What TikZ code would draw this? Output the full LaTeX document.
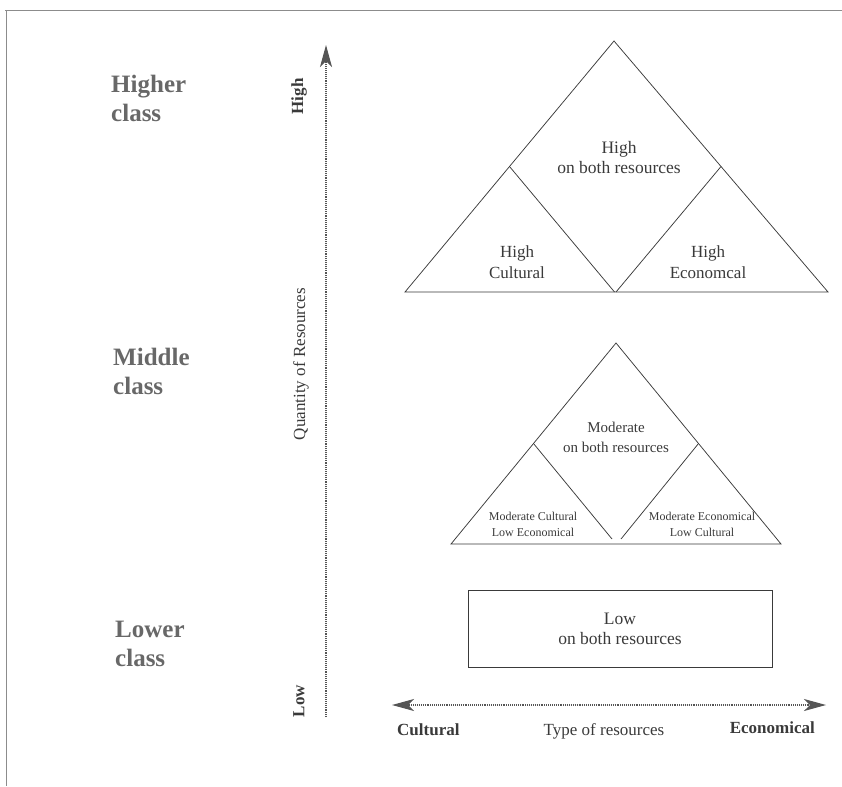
\documentclass[tikz,border=0pt]{standalone}
\usepackage{fontspec}
\setmainfont{Liberation Serif}
\usetikzlibrary{arrows.meta}
\definecolor{ink}{HTML}{3A3A3A}
\definecolor{clsgray}{HTML}{686868}
\definecolor{framegray}{HTML}{8C8C8C}
\definecolor{axisgray}{HTML}{555555}
\begin{document}
\begin{tikzpicture}[x=1pt,y=-1pt,
  clslabel/.style={text=clsgray, font=\fontsize{25}{29}\selectfont\bfseries, align=left, inner sep=0pt, anchor=north west},
  lbl/.style={text=ink, align=center, inner sep=0pt},
  edgeline/.style={draw=ink, line width=0.75pt, line join=miter},
  axisline/.style={draw=axisgray, line width=1.1pt, dash pattern=on 0.9pt off 1.0pt},
  axistip/.tip={Stealth[length=22pt,width=12pt,inset=6pt,fill=axisgray,color=axisgray]},
  framel/.style={draw=framegray, line width=0.9pt}
]
\useasboundingbox (0,0) rectangle (842,786);

% frame
\draw[framel] (5,10.5) -- (842,10.5);
\draw[framel] (6,10.5) -- (6,786);

% class labels
\node[clslabel] (hc) at (111,75) {Higher\\class};
\node[clslabel] (mc) at (113,348) {Middle\\class};
\node[clslabel] (lc) at (115,620.5) {Lower\\class};

% vertical axis
\coordinate (vb) at (326,717);
\coordinate (vt) at (326,45);
\draw[axisline, -axistip] (vb) -- (vt);
\node[lbl, rotate=90, font=\fontsize{17}{20}\selectfont\bfseries] (high) at (299,96.5) {High};
\node[lbl, rotate=90, font=\fontsize{17}{20}\selectfont\bfseries] (low) at (299,701) {Low};
\node[lbl, rotate=90, font=\fontsize{17}{20}\selectfont] (qty) at (301,364) {Quantity of Resources};

% horizontal axis
\coordinate (hl) at (392,705);
\coordinate (hr) at (826,705);
\draw[axisline, axistip-axistip] (hl) -- (hr);
\node[lbl, anchor=base west, font=\fontsize{17}{20}\selectfont\bfseries] (cult) at (397,735) {Cultural};
\node[lbl, anchor=base, font=\fontsize{17}{20}\selectfont] (type) at (604,735) {Type of resources};
\node[lbl, anchor=base east, font=\fontsize{17}{20}\selectfont\bfseries] (econ) at (815,733) {Economical};

% big triangle
\coordinate (A1) at (614,41);
\coordinate (L1) at (405,292);
\coordinate (R1) at (828,292);
\coordinate (ML1) at (509.5,166.5);
\coordinate (MR1) at (721,166.5);
\coordinate (B1a) at (614.5,292);
\coordinate (B1b) at (616,292);
\draw[edgeline] (A1) -- (R1) -- (L1) -- cycle;
\draw[edgeline] (ML1) -- (B1a);
\draw[edgeline] (B1b) -- (MR1);
\node[lbl, font=\fontsize{17.5}{20}\selectfont] (t1) at (619,158) {High\\on both resources};
\node[lbl, font=\fontsize{17}{21}\selectfont] (t2) at (517,262) {High\\Cultural};
\node[lbl, font=\fontsize{17}{21}\selectfont] (t3) at (708,262) {High\\Economcal};

% middle triangle
\coordinate (A2) at (616,343);
\coordinate (L2) at (451,544);
\coordinate (R2) at (781,544);
\coordinate (ML2) at (533.5,443.5);
\coordinate (MR2) at (698.5,443.5);
\coordinate (B2a) at (612,539);
\coordinate (B2b) at (621,539);
\draw[edgeline] (A2) -- (R2) -- (L2) -- cycle;
\draw[edgeline] (ML2) -- (B2a);
\draw[edgeline] (B2b) -- (MR2);
\node[lbl, font=\fontsize{15}{20}\selectfont] (t4) at (616,437) {Moderate\\on both resources};
\node[lbl, font=\fontsize{12}{16}\selectfont] (t5) at (533,524) {Moderate Cultural\\Low Economical};
\node[lbl, font=\fontsize{12}{16}\selectfont] (t6) at (702,524) {Moderate Economical\\Low Cultural};

% lower box
\node[draw=ink, line width=0.75pt, minimum width=304pt, minimum height=77pt, inner sep=0pt] (box) at (620,628.5) {};
\node[lbl, font=\fontsize{17.5}{20}\selectfont] (t7) at (box.center) {Low\\on both resources};
\end{tikzpicture}
\end{document}
